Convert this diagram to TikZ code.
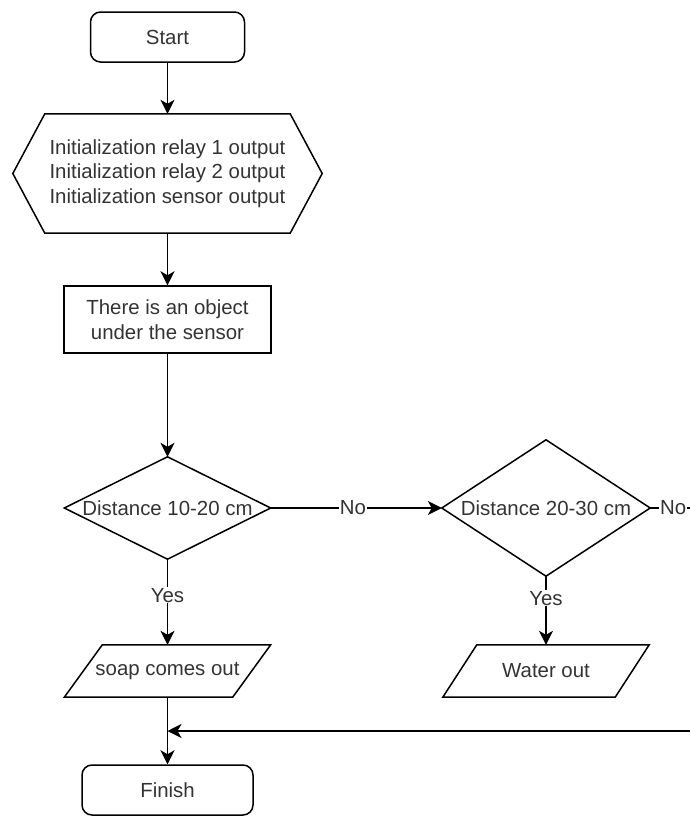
\documentclass[tikz,border=0pt]{standalone}
\usepackage{fontspec}
\setmainfont{Liberation Sans}
\usetikzlibrary{arrows.meta}
\begin{document}
\begin{tikzpicture}[x=1pt,y=-1pt,
  every node/.style={font=\fontsize{20.4}{24.5}\selectfont, text=black!80},
  base/.style={line width=1.5pt, draw=black},
  term/.style={base, rounded corners=10pt, minimum width=154pt, minimum height=50pt, inner sep=0pt},
  box/.style={base, minimum width=207pt, minimum height=67pt, align=center, inner sep=0pt},
  free/.style={draw=none, inner sep=0pt, align=center},
  arr/.style={line width=1.5pt, -{Stealth[length=14pt,width=14pt,inset=4pt]}},
  lab/.style={fill=white, inner sep=1pt}
]
\useasboundingbox (0,0) rectangle (689,817);

\node[term] (start) at (167.5,37) {Start};

\node[free, minimum width=309pt, minimum height=119pt] (init) at (167.5,173.5)
  {Initialization relay 1 output\\Initialization relay 2 output\\Initialization sensor output};
\draw[base] ([xshift=32pt]init.north west) -- ([xshift=-32pt]init.north east) -- (init.east)
  -- ([xshift=-32pt]init.south east) -- ([xshift=32pt]init.south west) -- (init.west) -- cycle;

\node[box] (obj) at (167.5,319.5) {There is an object\\under the sensor};

\node[free, minimum width=206pt, minimum height=102pt] (d1) at (167.5,508) {Distance 10-20 cm};
\draw[base] (d1.north) -- (d1.east) -- (d1.south) -- (d1.west) -- cycle;

\node[free, minimum width=208pt, minimum height=136pt] (d2) at (546,508) {Distance 20-30 cm};
\draw[base] (d2.north) -- (d2.east) -- (d2.south) -- (d2.west) -- cycle;

\node[free, minimum width=206pt, minimum height=52pt] (p1) at (167.5,671) {soap comes out};
\draw[base] ([xshift=38pt]p1.north west) -- (p1.north east) -- ([xshift=-38pt]p1.south east)
  -- (p1.south west) -- cycle;

\node[free, minimum width=206pt, minimum height=52pt] (p2) at (546,671) {Water out};
\draw[base] ([xshift=34pt]p2.north west) -- (p2.north east) -- ([xshift=-34pt]p2.south east)
  -- (p2.south west) -- cycle;

\node[term, minimum width=171pt] (fin) at (167.5,790) {Finish};

\coordinate (c1) at (705,508);
\coordinate (c2) at (705,731);
\coordinate (m) at (167.5,731);

\draw[arr] (start.south) -- (init.north);
\draw[arr] (init.south) -- (obj.north);
\draw[arr] (obj.south) -- (d1.north);
\draw[arr] (d1.east) -- node[lab, pos=0.48]{No} (d2.west);
\draw[arr] (d1.south) -- node[lab, pos=0.42]{Yes} (p1.north);
\draw[arr] (d2.south) -- node[lab, pos=0.32]{Yes} (p2.north);
\draw[arr] (p1.south) -- (fin.north);
\draw[arr] (d2.east) -- node[lab, pos=0.42]{No} (c1) -- (c2) -- (m);
\end{tikzpicture}
\end{document}
